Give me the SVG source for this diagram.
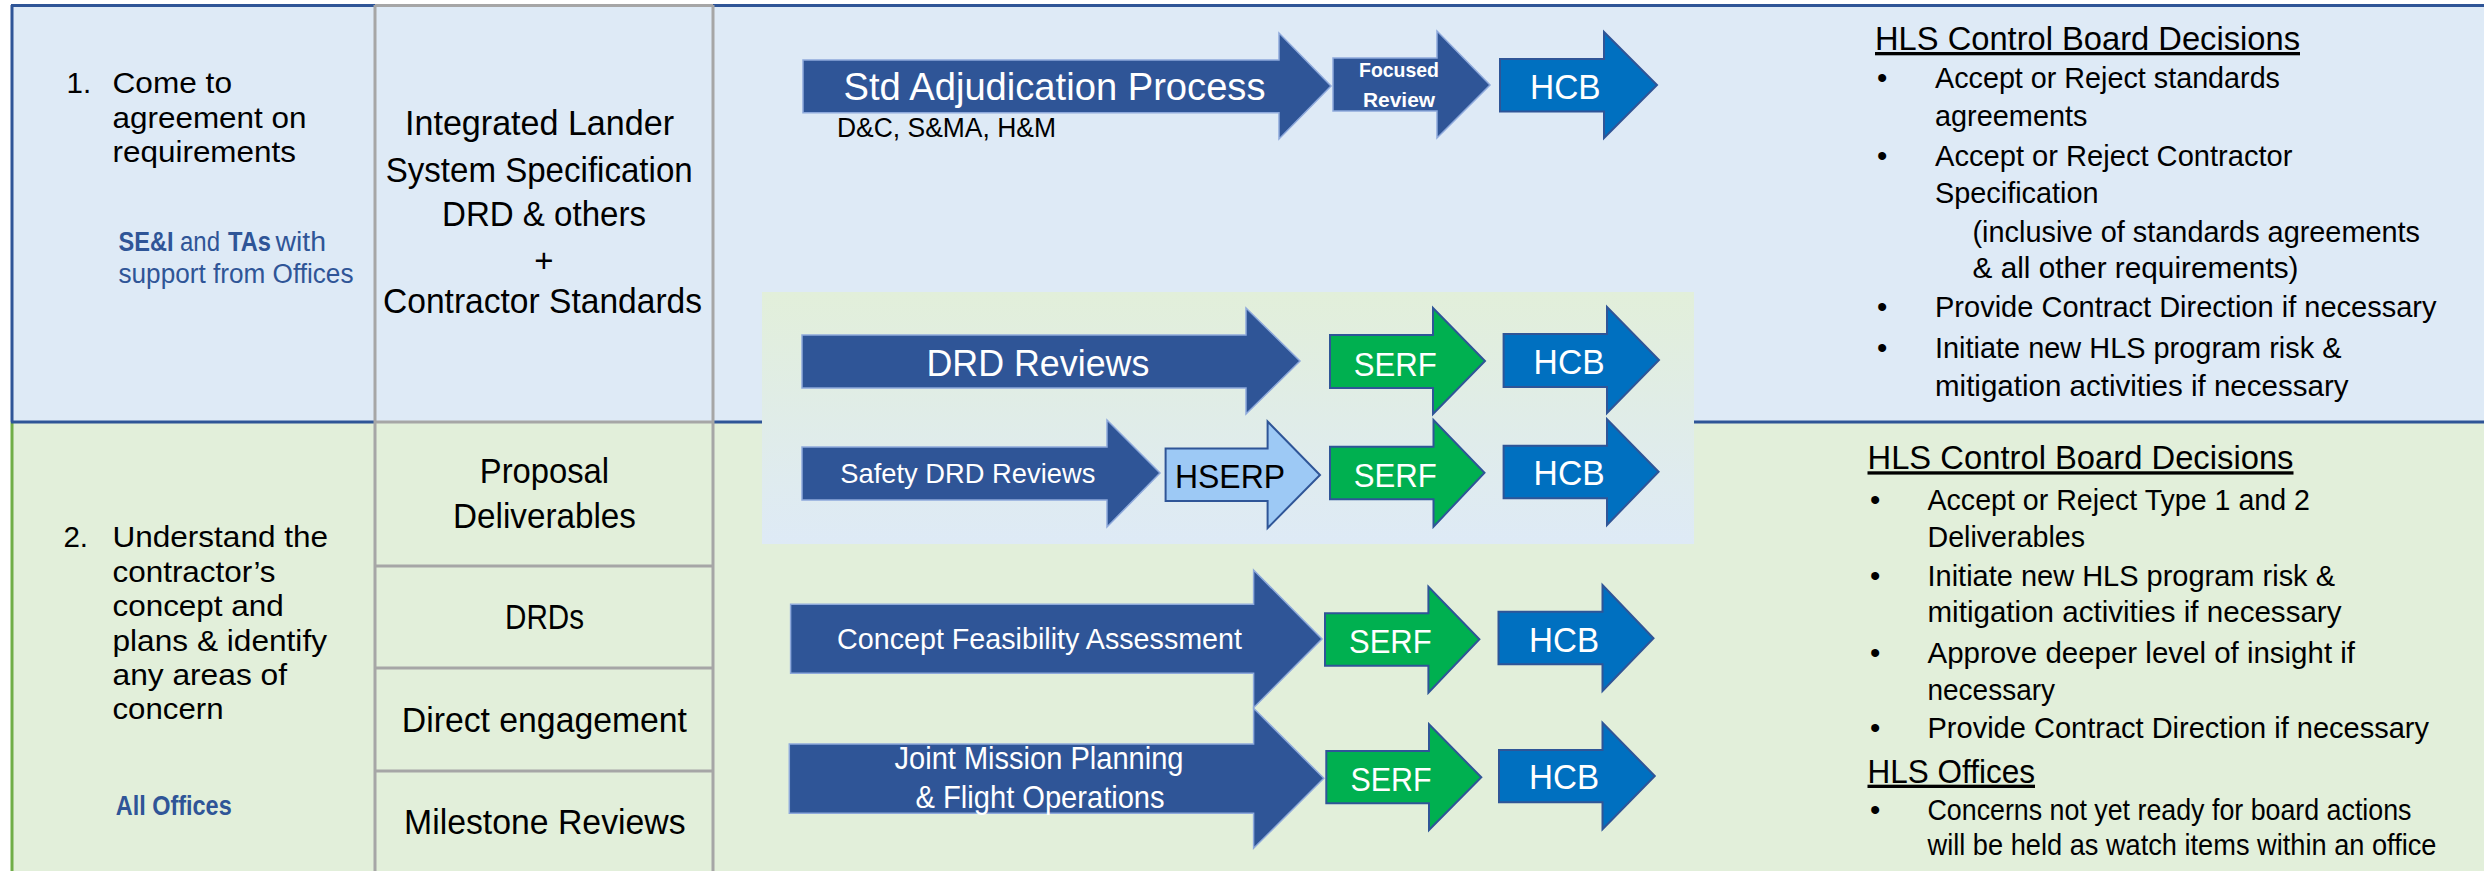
<svg xmlns="http://www.w3.org/2000/svg" width="2484" height="871" viewBox="0 0 2484 871">
<defs>
<linearGradient id="boxGrad" x1="0" y1="0" x2="0" y2="1">
<stop offset="0" stop-color="#E2EFDA"/>
<stop offset="1" stop-color="#DEEAF6"/>
</linearGradient>
<style>
.t{font-family:'Liberation Sans',Arial,sans-serif;fill:#000}
.w{fill:#fff}
.b{font-weight:bold}
.blue{fill:#2F5597}
.dark{fill:#2F5597;stroke:#8EA9DB;stroke-width:1.5}
.hcb{fill:#0070C0;stroke:#2F5597;stroke-width:2}
.serf{fill:#00B050;stroke:#2F5597;stroke-width:2}
.hserp{fill:#9DC9F5;stroke:#2F5597;stroke-width:2}
.gl{stroke:#A6A6A6;stroke-width:3;fill:none}
.bl{stroke:#2F5597;stroke-width:3;fill:none}
.st{font-size:29.5px}
.rp{font-size:29.5px}
.hd{font-size:33px;text-decoration:underline}
</style>
</defs>

<g id="background">
<rect x="12" y="5.5" width="2472" height="416.5" fill="#DEEAF6"/>
<rect x="12" y="422" width="2472" height="449" fill="#E2EFDA"/>
<line class="bl" x1="11" y1="5.5" x2="375" y2="5.5"/>
<line class="gl" x1="375" y1="5.5" x2="713" y2="5.5"/>
<line class="bl" x1="713" y1="5.5" x2="2484" y2="5.5"/>
<line class="bl" x1="12" y1="5" x2="12" y2="422"/>
<line x1="12" y1="422" x2="12" y2="871" stroke="#70AD47" stroke-width="3"/>
<line class="bl" x1="11" y1="422" x2="375" y2="422"/>
<line class="gl" x1="375" y1="422" x2="713" y2="422"/>
<line class="bl" x1="713" y1="422" x2="2484" y2="422"/>
<line class="gl" x1="375" y1="5" x2="375" y2="871"/>
<line class="gl" x1="713" y1="5" x2="713" y2="871"/>
<line class="gl" x1="375" y1="566" x2="713" y2="566"/>
<line class="gl" x1="375" y1="668" x2="713" y2="668"/>
<line class="gl" x1="375" y1="771" x2="713" y2="771"/>
<rect id="drd-box" x="762" y="292" width="932" height="252" fill="url(#boxGrad)"/>
</g>

<g id="step1">
<text class="t st" x="66.6" y="92.7">1.</text>
<text class="t st" x="112.5" y="92.7" textLength="119.5" lengthAdjust="spacingAndGlyphs">Come to</text>
<text class="t st" x="112.5" y="127.5" textLength="194" lengthAdjust="spacingAndGlyphs">agreement on</text>
<text class="t st" x="112.5" y="162.3" textLength="183.5" lengthAdjust="spacingAndGlyphs">requirements</text>
<text class="t blue b" x="118.5" y="250.7" font-size="27" textLength="55" lengthAdjust="spacingAndGlyphs">SE&amp;I</text>
<text class="t blue" x="180" y="250.7" font-size="27" textLength="40" lengthAdjust="spacingAndGlyphs">and</text>
<text class="t blue b" x="228" y="250.7" font-size="27" textLength="43" lengthAdjust="spacingAndGlyphs">TAs</text>
<text class="t blue" x="275.5" y="250.7" font-size="27" textLength="50.5" lengthAdjust="spacingAndGlyphs">with</text>
<text class="t blue" x="118.5" y="282.7" font-size="27" textLength="235" lengthAdjust="spacingAndGlyphs">support from Offices</text>
</g>

<g id="inputs1">
<text class="t" x="405" y="135" font-size="35" textLength="269" lengthAdjust="spacingAndGlyphs">Integrated Lander</text>
<text class="t" x="385.7" y="181.7" font-size="35" textLength="307" lengthAdjust="spacingAndGlyphs">System Specification</text>
<text class="t" x="442" y="226" font-size="35" textLength="204" lengthAdjust="spacingAndGlyphs">DRD &amp; others</text>
<text class="t" x="544" y="272" font-size="33" text-anchor="middle">+</text>
<text class="t" x="383" y="313" font-size="35" textLength="319" lengthAdjust="spacingAndGlyphs">Contractor Standards</text>
</g>

<g id="step2">
<text class="t st" x="63.4" y="546.7">2.</text>
<text class="t st" x="112.5" y="546.7" textLength="215.5" lengthAdjust="spacingAndGlyphs">Understand the</text>
<text class="t st" x="112.5" y="581.7" textLength="163" lengthAdjust="spacingAndGlyphs">contractor’s</text>
<text class="t st" x="112.5" y="616" textLength="171.2" lengthAdjust="spacingAndGlyphs">concept and</text>
<text class="t st" x="112.5" y="650.7" textLength="214.5" lengthAdjust="spacingAndGlyphs">plans &amp; identify</text>
<text class="t st" x="112.5" y="685" textLength="174.5" lengthAdjust="spacingAndGlyphs">any areas of</text>
<text class="t st" x="112.5" y="719.3" textLength="111" lengthAdjust="spacingAndGlyphs">concern</text>
<text class="t blue b" x="115.7" y="815" font-size="27" textLength="116" lengthAdjust="spacingAndGlyphs">All Offices</text>
</g>

<g id="inputs2">
<text class="t" x="479.8" y="483.3" font-size="35" textLength="129.2" lengthAdjust="spacingAndGlyphs">Proposal</text>
<text class="t" x="453" y="528.3" font-size="35" textLength="183" lengthAdjust="spacingAndGlyphs">Deliverables</text>
<text class="t" x="505" y="629" font-size="35" textLength="79" lengthAdjust="spacingAndGlyphs">DRDs</text>
<text class="t" x="401.8" y="731.7" font-size="35" textLength="285.2" lengthAdjust="spacingAndGlyphs">Direct engagement</text>
<text class="t" x="404" y="834.3" font-size="35" textLength="281.6" lengthAdjust="spacingAndGlyphs">Milestone Reviews</text>
</g>

<g id="connectors"></g>

<g id="std-adjudication">
<polygon class="dark" points="803,60 1279,60 1279,33 1331,86 1279,139 1279,112.7 803,112.7"/>
<text class="t w" x="843.5" y="100" font-size="38.5" textLength="422" lengthAdjust="spacingAndGlyphs">Std Adjudication Process</text>
<text class="t" x="837" y="137" font-size="27" textLength="219" lengthAdjust="spacingAndGlyphs">D&amp;C, S&amp;MA, H&amp;M</text>
</g>
<g id="focused-review">
<polygon class="dark" points="1333,58 1437,58 1437,31 1490,85 1437,138 1437,111 1333,111"/>
<text class="t w b" x="1359" y="77" font-size="21" textLength="80" lengthAdjust="spacingAndGlyphs">Focused</text>
<text class="t w b" x="1363" y="107" font-size="21" textLength="72" lengthAdjust="spacingAndGlyphs">Review</text>
</g>
<g id="hcb-1">
<polygon class="hcb" points="1500,59 1604,59 1604,32 1657,85 1604,138 1604,111.5 1500,111.5"/>
<text class="t w" x="1530" y="99" font-size="34.5" textLength="70.6" lengthAdjust="spacingAndGlyphs">HCB</text>
</g>

<g id="drd-reviews">
<polygon class="dark" points="802,335 1246,335 1246,308 1300,361 1246,414 1246,388 802,388"/>
<text class="t w" x="926.4" y="376" font-size="37.5" textLength="223" lengthAdjust="spacingAndGlyphs">DRD Reviews</text>
</g>
<g id="serf-1">
<polygon class="serf" points="1330,335 1433,335 1433,308 1485,361 1433,414 1433,388 1330,388"/>
<text class="t w" x="1353.7" y="376" font-size="33" textLength="83" lengthAdjust="spacingAndGlyphs">SERF</text>
</g>
<g id="hcb-2">
<polygon class="hcb" points="1503.6,334 1607,334 1607,307 1659,360 1607,413 1607,387 1503.6,387"/>
<text class="t w" x="1533.6" y="374" font-size="34.5" textLength="71" lengthAdjust="spacingAndGlyphs">HCB</text>
</g>

<g id="safety-drd-reviews">
<polygon class="dark" points="802,447 1107,447 1107,420 1160,473 1107,527 1107,500 802,500"/>
<text class="t w" x="840.3" y="483.3" font-size="28.5" textLength="255" lengthAdjust="spacingAndGlyphs">Safety DRD Reviews</text>
</g>
<g id="hserp">
<polygon class="hserp" points="1165.6,448.5 1267.6,448.5 1267.6,421.5 1320,475 1267.6,528 1267.6,501 1165.6,501"/>
<text class="t" x="1175" y="488.3" font-size="34" textLength="110" lengthAdjust="spacingAndGlyphs">HSERP</text>
</g>
<g id="serf-2">
<polygon class="serf" points="1330,446.7 1433.5,446.7 1433.5,420 1484.5,472.7 1433.5,526.7 1433.5,499.3 1330,499.3"/>
<text class="t w" x="1353.7" y="487.3" font-size="33" textLength="83" lengthAdjust="spacingAndGlyphs">SERF</text>
</g>
<g id="hcb-3">
<polygon class="hcb" points="1503.6,445.7 1607,445.7 1607,419.3 1658.6,471.7 1607,525 1607,498.3 1503.6,498.3"/>
<text class="t w" x="1533.6" y="485" font-size="34.5" textLength="71" lengthAdjust="spacingAndGlyphs">HCB</text>
</g>

<g id="concept-feasibility">
<polygon class="dark" points="790.6,604.3 1253.6,604.3 1253.6,570 1322,639 1253.6,707.7 1253.6,673.3 790.6,673.3"/>
<text class="t w" x="837" y="649.3" font-size="30" textLength="405" lengthAdjust="spacingAndGlyphs">Concept Feasibility Assessment</text>
</g>
<g id="serf-3">
<polygon class="serf" points="1325,613.3 1428.4,613.3 1428.4,586.7 1479.4,639.3 1428.4,692.7 1428.4,665.7 1325,665.7"/>
<text class="t w" x="1349" y="653.3" font-size="33" textLength="82.6" lengthAdjust="spacingAndGlyphs">SERF</text>
</g>
<g id="hcb-4">
<polygon class="hcb" points="1498.5,611.7 1602.5,611.7 1602.5,585 1653.5,638.3 1602.5,691 1602.5,664.3 1498.5,664.3"/>
<text class="t w" x="1529" y="651.7" font-size="34.5" textLength="70" lengthAdjust="spacingAndGlyphs">HCB</text>
</g>

<g id="joint-mission">
<polygon class="dark" points="789.3,744 1253.6,744 1253.6,708.3 1323.8,778.3 1253.6,848.3 1253.6,813.3 789.3,813.3"/>
<text class="t w" x="894.5" y="769.3" font-size="30.5" textLength="289" lengthAdjust="spacingAndGlyphs">Joint Mission Planning</text>
<text class="t w" x="915.6" y="808.3" font-size="30.5" textLength="249" lengthAdjust="spacingAndGlyphs">&amp; Flight Operations</text>
</g>
<g id="serf-4">
<polygon class="serf" points="1326.3,751 1429,751 1429,724.3 1481.3,777.3 1429,830 1429,803.3 1326.3,803.3"/>
<text class="t w" x="1350.6" y="791" font-size="33" textLength="81" lengthAdjust="spacingAndGlyphs">SERF</text>
</g>
<g id="hcb-5">
<polygon class="hcb" points="1499,750 1602.5,750 1602.5,722.7 1654.8,776 1602.5,829.3 1602.5,802.3 1499,802.3"/>
<text class="t w" x="1529" y="789.3" font-size="34.5" textLength="70" lengthAdjust="spacingAndGlyphs">HCB</text>
</g>

<g id="decisions-1">
<text class="t hd" x="1875" y="50" textLength="425" lengthAdjust="spacingAndGlyphs">HLS Control Board Decisions</text>
<text class="t rp" x="1877" y="88.3">•</text>
<text class="t rp" x="1935" y="88.3" textLength="345" lengthAdjust="spacingAndGlyphs">Accept or Reject standards</text>
<text class="t rp" x="1935" y="126" textLength="152.5" lengthAdjust="spacingAndGlyphs">agreements</text>
<text class="t rp" x="1877" y="165.7">•</text>
<text class="t rp" x="1935" y="165.7" textLength="357.5" lengthAdjust="spacingAndGlyphs">Accept or Reject Contractor</text>
<text class="t rp" x="1935" y="202.7" textLength="163.5" lengthAdjust="spacingAndGlyphs">Specification</text>
<text class="t rp" x="1972.5" y="241.7" textLength="447.5" lengthAdjust="spacingAndGlyphs">(inclusive of standards agreements</text>
<text class="t rp" x="1972.5" y="278.3" textLength="326" lengthAdjust="spacingAndGlyphs">&amp; all other requirements)</text>
<text class="t rp" x="1877" y="317.3">•</text>
<text class="t rp" x="1935" y="317.3" textLength="501.5" lengthAdjust="spacingAndGlyphs">Provide Contract Direction if necessary</text>
<text class="t rp" x="1877" y="357.7">•</text>
<text class="t rp" x="1935" y="357.7" textLength="406.5" lengthAdjust="spacingAndGlyphs">Initiate new HLS program risk &amp;</text>
<text class="t rp" x="1935" y="395.7" textLength="413.5" lengthAdjust="spacingAndGlyphs">mitigation activities if necessary</text>
</g>

<g id="decisions-2">
<text class="t hd" x="1867.5" y="469.3" textLength="426" lengthAdjust="spacingAndGlyphs">HLS Control Board Decisions</text>
<text class="t rp" x="1870" y="510">•</text>
<text class="t rp" x="1927.5" y="510" textLength="382.5" lengthAdjust="spacingAndGlyphs">Accept or Reject Type 1 and 2</text>
<text class="t rp" x="1927.5" y="546.7" textLength="157.5" lengthAdjust="spacingAndGlyphs">Deliverables</text>
<text class="t rp" x="1870" y="585.7">•</text>
<text class="t rp" x="1927.5" y="585.7" textLength="407.5" lengthAdjust="spacingAndGlyphs">Initiate new HLS program risk &amp;</text>
<text class="t rp" x="1927.5" y="621.7" textLength="414" lengthAdjust="spacingAndGlyphs">mitigation activities if necessary</text>
<text class="t rp" x="1870" y="663.3">•</text>
<text class="t rp" x="1927.5" y="663.3" textLength="427.5" lengthAdjust="spacingAndGlyphs">Approve deeper level of insight if</text>
<text class="t rp" x="1927.5" y="700" textLength="127.5" lengthAdjust="spacingAndGlyphs">necessary</text>
<text class="t rp" x="1870" y="738.3">•</text>
<text class="t rp" x="1927.5" y="738.3" textLength="501.5" lengthAdjust="spacingAndGlyphs">Provide Contract Direction if necessary</text>
</g>

<g id="offices">
<text class="t hd" x="1867.5" y="782.7" textLength="167.5" lengthAdjust="spacingAndGlyphs">HLS Offices</text>
<text class="t rp" x="1870" y="820">•</text>
<text class="t rp" x="1927.5" y="820" textLength="484" lengthAdjust="spacingAndGlyphs">Concerns not yet ready for board actions</text>
<text class="t rp" x="1927.5" y="855" textLength="509" lengthAdjust="spacingAndGlyphs">will be held as watch items within an office</text>
</g>
</svg>
